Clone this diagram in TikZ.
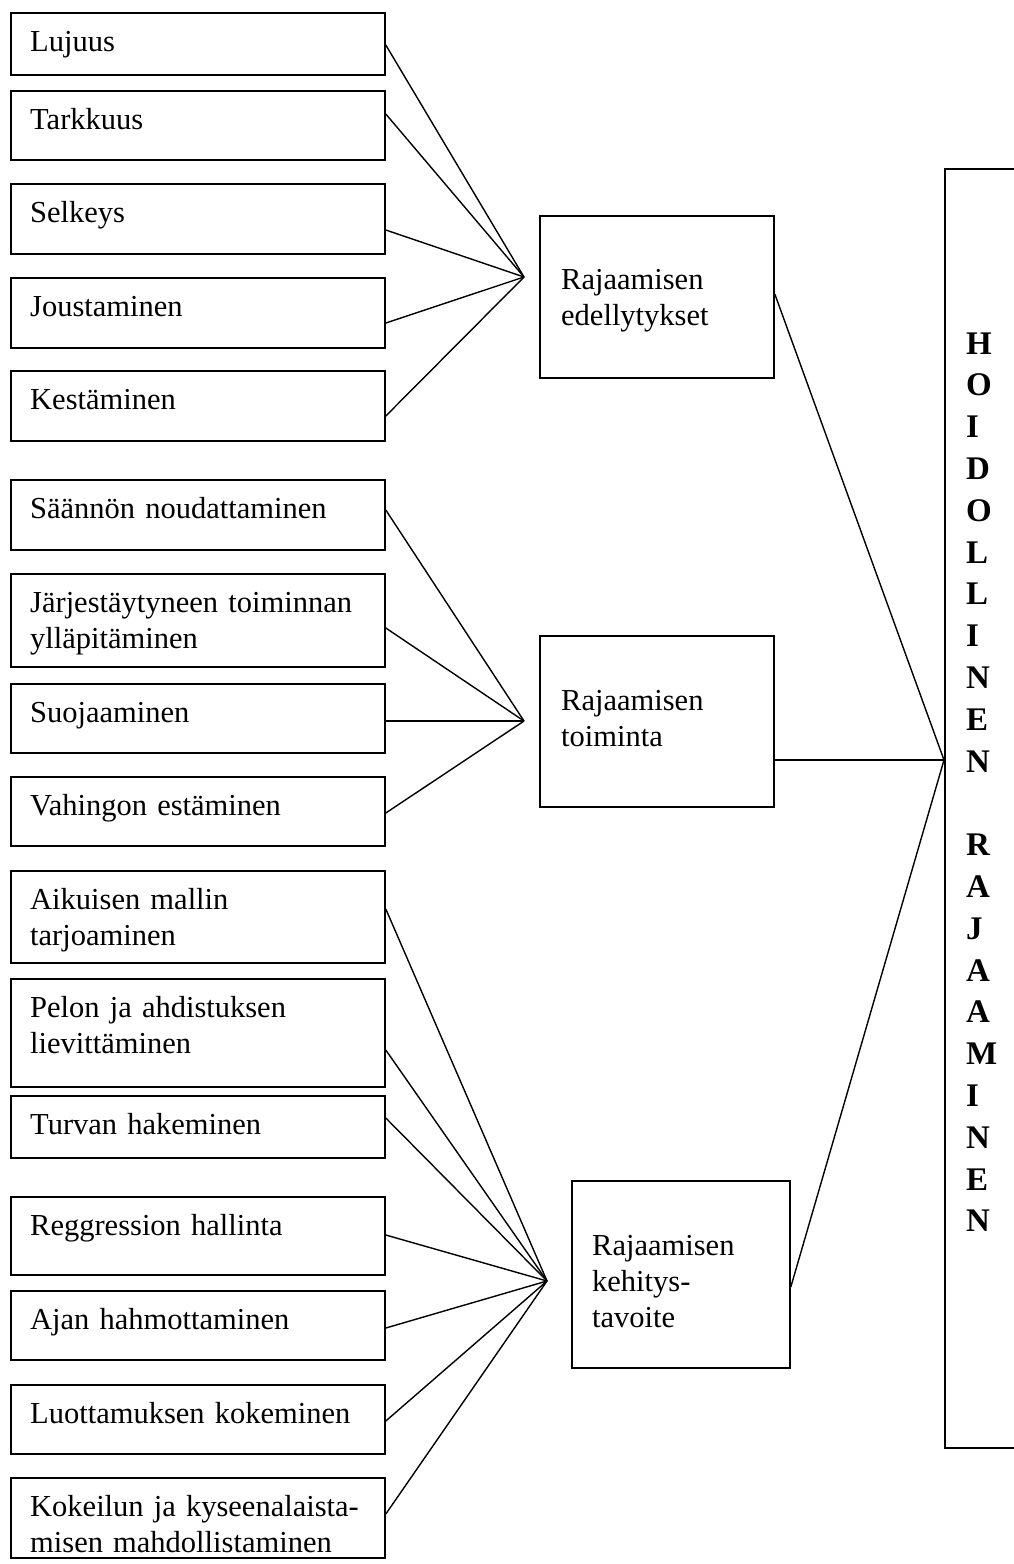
\documentclass[tikz,border=0pt]{standalone}
\usepackage{fontspec}
\setmainfont{Liberation Serif}
\usetikzlibrary{calc}
\tikzset{
  lbox/.style={draw, line width=1.8pt, anchor=north west, inner sep=0pt, minimum width=374pt},
  mbox/.style={draw, line width=1.8pt, anchor=north west, inner sep=0pt},
  txt/.style={anchor=base west, inner sep=0pt, text width=350pt, align=left, font=\fontsize{30.5}{36}\selectfont},
  mtxt/.style={anchor=base west, inner sep=0pt, text width=200pt, align=left, font=\fontsize{30.5}{36}\selectfont},
  bigtxt/.style={anchor=base west, inner sep=0pt, text width=50pt, align=left, font=\bfseries\fontsize{33}{41.8}\selectfont},
  link/.style={line width=1.4pt}
}
% name, top, bottom, attach y, text, hub
\newcommand\leftitem[6]{%
  \node[lbox, minimum height={(#3-#2)*1pt}] (#1) at (10,#2) {};
  \node[txt] (#1-t) at (30,#2+39) {#5};
  \draw[link] ($(#1.north east)+(0,#4-#2)$) -- (#6);
}
\begin{document}
\begin{tikzpicture}[x=1pt,y=-1pt]
\useasboundingbox (0,0) rectangle (1013,1564);

\coordinate (hubA) at (524,277);
\coordinate (hubB) at (524,721);
\coordinate (hubC) at (547,1281);
\coordinate (hubD) at (944,760);

% group 1
\leftitem{lujuus}{12}{74}{45}{Lujuus}{hubA}
\leftitem{tarkkuus}{90}{159}{114}{Tarkkuus}{hubA}
\leftitem{selkeys}{183}{253}{230}{Selkeys}{hubA}
\leftitem{joust}{277}{347}{323}{Joustaminen}{hubA}
\leftitem{kest}{370}{440}{416}{Kestäminen}{hubA}

% group 2
\leftitem{saannon}{479}{549}{510}{Säännön noudattaminen}{hubB}
\leftitem{jarj}{573}{666}{628}{Järjestäytyneen toiminnan\\ylläpitäminen}{hubB}
\leftitem{suoj}{683}{752}{721}{Suojaaminen}{hubB}
\leftitem{vahingon}{776}{845}{813}{Vahingon estäminen}{hubB}

% group 3
\leftitem{aikuisen}{870}{962}{909}{Aikuisen mallin\\tarjoaminen}{hubC}
\leftitem{pelon}{978}{1086}{1050}{Pelon ja ahdistuksen\\lievittäminen}{hubC}
\leftitem{turvan}{1095}{1157}{1118}{Turvan hakeminen}{hubC}
\leftitem{regg}{1196}{1274}{1235}{Reggression hallinta}{hubC}
\leftitem{ajan}{1290}{1359}{1328}{Ajan hahmottaminen}{hubC}
\leftitem{luott}{1384}{1453}{1421}{Luottamuksen kokeminen}{hubC}
\leftitem{kokeilun}{1477}{1557}{1514}{Kokeilun ja kyseenalaista-\\misen mahdollistaminen}{hubC}

% middle boxes
\node[mbox, minimum width=234pt, minimum height=162pt] (edell) at (539,215) {};
\node[mtxt] (edell-t) at (561,289) {Rajaamisen\\edellytykset};
\node[mbox, minimum width=234pt, minimum height=171pt] (toim) at (539,635) {};
\node[mtxt] (toim-t) at (561,710) {Rajaamisen\\toiminta};
\node[mbox, minimum width=218pt, minimum height=187pt] (kehit) at (571,1180) {};
\node[mtxt] (kehit-t) at (592,1255) {Rajaamisen\\kehitys-\\tavoite};

\draw[link] ($(edell.north east)+(0,79)$) -- (hubD);
\draw[link] ($(toim.north east)+(0,125)$) -- (hubD);
\draw[link] ($(kehit.north east)+(0,107)$) -- (hubD);

% big box
\node[mbox, minimum width=100pt, minimum height=1279pt] (hoid) at (944,168) {};
\node[bigtxt] (hoid-t) at (966,354) {H\\O\\I\\D\\O\\L\\L\\I\\N\\E\\N\\[41.8pt]R\\A\\J\\A\\A\\M\\I\\N\\E\\N};
\end{tikzpicture}
\end{document}
